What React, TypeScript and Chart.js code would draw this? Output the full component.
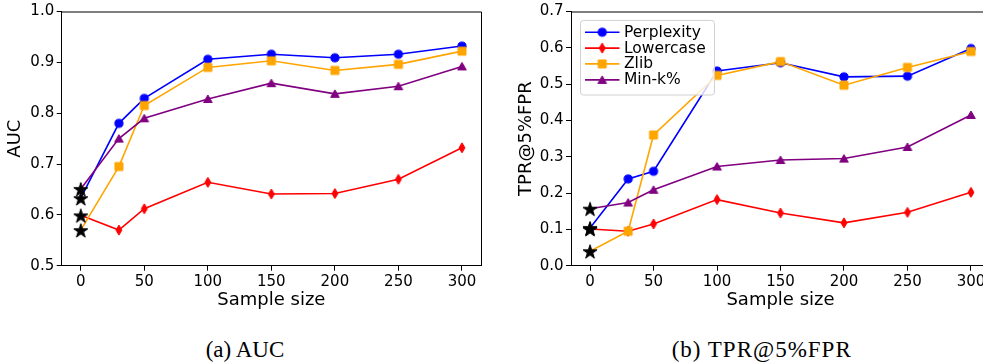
import React, { useEffect, useRef } from 'react';
import { Chart, registerables } from 'chart.js';

Chart.register(...registerables);

const sampleSizes = [0, 30, 50, 100, 150, 200, 250, 300];
const seriesNames = ['Perplexity', 'Lowercase', 'Zlib', 'Min-k%'];
const seriesColors = ['#0000ff', '#ff0000', '#ffa500', '#800080'];
const seriesMarkers = ['circle', 'thinDiamond', 'square', 'triangle'];

const aucPerplexity = [0.633, 0.780, 0.829, 0.906, 0.916, 0.909, 0.916, 0.932];
const aucLowercase = [0.599, 0.570, 0.612, 0.664, 0.641, 0.642, 0.670, 0.732];
const aucZlib = [0.570, 0.695, 0.815, 0.890, 0.903, 0.884, 0.896, 0.922];
const aucMinK = [0.651, 0.750, 0.790, 0.828, 0.859, 0.838, 0.853, 0.892];

const tprPerplexity = [0.104, 0.239, 0.260, 0.536, 0.559, 0.520, 0.522, 0.598];
const tprLowercase = [0.101, 0.095, 0.115, 0.182, 0.145, 0.118, 0.147, 0.202];
const tprZlib = [0.040, 0.095, 0.360, 0.524, 0.562, 0.497, 0.546, 0.590];
const tprMinK = [0.157, 0.174, 0.209, 0.273, 0.291, 0.295, 0.327, 0.415];

const xTicks = [0, 50, 100, 150, 200, 250, 300];
const aucTicks = [0.5, 0.6, 0.7, 0.8, 0.9, 1.0];
const tprTicks = [0.0, 0.1, 0.2, 0.3, 0.4, 0.5, 0.6, 0.7];

const FONT = "'DejaVu Sans', 'Liberation Sans', sans-serif";

function makeMarker(kind: string, color: string): HTMLCanvasElement {
  const c = document.createElement('canvas');
  c.width = 22;
  c.height = 22;
  const g = c.getContext('2d')!;
  const cx = 11, cy = 11;
  g.fillStyle = color;
  g.strokeStyle = color;
  g.lineWidth = 1;
  g.lineJoin = 'miter';
  g.beginPath();
  if (kind === 'circle') {
    g.arc(cx, cy, 4.1, 0, Math.PI * 2);
  } else if (kind === 'square') {
    g.rect(cx - 4, cy - 4, 8, 8);
  } else if (kind === 'thinDiamond') {
    g.moveTo(cx, cy - 5);
    g.lineTo(cx + 3, cy);
    g.lineTo(cx, cy + 5);
    g.lineTo(cx - 3, cy);
    g.closePath();
  } else if (kind === 'triangle') {
    const R = 5;
    for (let i = 0; i < 3; i++) {
      const a = -Math.PI / 2 + (i * 2 * Math.PI) / 3;
      const px = cx + R * Math.cos(a);
      const py = cy + 1 + R * Math.sin(a);
      if (i === 0) g.moveTo(px, py); else g.lineTo(px, py);
    }
    g.closePath();
  } else if (kind === 'star') {
    const R = 7.4, r = R * 0.382;
    for (let i = 0; i < 10; i++) {
      const a = -Math.PI / 2 + (i * Math.PI) / 5;
      const rad = i % 2 === 0 ? R : r;
      const px = cx + rad * Math.cos(a);
      const py = cy + 1 + rad * Math.sin(a);
      if (i === 0) g.moveTo(px, py); else g.lineTo(px, py);
    }
    g.closePath();
  }
  g.fill();
  g.stroke();
  return c;
}

const spinePlugin = {
  id: 'spines',
  afterDatasetsDraw(chart: any) {
    const { ctx, chartArea } = chart;
    ctx.save();
    ctx.strokeStyle = '#000';
    ctx.lineWidth = 1;
    ctx.beginPath();
    ctx.moveTo(chartArea.left, chartArea.top + 0.5);
    ctx.lineTo(chartArea.right + 0.5, chartArea.top + 0.5);
    ctx.lineTo(chartArea.right + 0.5, chartArea.bottom);
    ctx.stroke();
    ctx.restore();
  },
};

function makeLegendPlugin(markers: HTMLCanvasElement[]) {
  return {
    id: 'customLegend',
    afterDatasetsDraw(chart: any) {
      const { ctx, chartArea } = chart;
      const x0 = chartArea.left + 9;
      const y0 = chartArea.top + 8.4;
      const w = 134;
      const h = 74.6;
      ctx.save();
      ctx.beginPath();
      ctx.roundRect(x0 + 0.5, y0 + 0.5, w, h, 3);
      ctx.fillStyle = 'rgba(255,255,255,0.8)';
      ctx.fill();
      ctx.strokeStyle = '#d0d0d0';
      ctx.lineWidth = 1;
      ctx.stroke();
      const rowY = [20.7, 36.6, 52.4, 68.4];
      ctx.font = `15.5px ${FONT}`;
      ctx.textBaseline = 'middle';
      ctx.textAlign = 'left';
      seriesNames.forEach((name, i) => {
        const y = chartArea.top + rowY[i];
        ctx.strokeStyle = seriesColors[i];
        ctx.lineWidth = 1.6;
        ctx.beginPath();
        ctx.moveTo(chartArea.left + 14, y);
        ctx.lineTo(chartArea.left + 48.5, y);
        ctx.stroke();
        const m = markers[i];
        ctx.drawImage(m, chartArea.left + 31.2 - m.width / 2, y - m.height / 2);
        ctx.fillStyle = '#000';
        ctx.fillText(name, chartArea.left + 53, y + 0.5);
      });
      ctx.restore();
    },
  };
}

type PanelProps = {
  series: number[][];
  yTicks: number[];
  yMin: number;
  yMax: number;
  yTitle: string;
  width: number;
  height: number;
  yAxisWidth: number;
  padRight: number;
  padTop: number;
  yTitlePad: number;
  legend: boolean;
};

function Panel(p: PanelProps) {
  const ref = useRef<HTMLCanvasElement>(null);
  useEffect(() => {
    if (!ref.current) return;
    const markers = seriesMarkers.map((k, i) => makeMarker(k, seriesColors[i]));
    const star = makeMarker('star', '#000');
    const lineSets = p.series.map((vals, i) => ({
      type: 'line' as const,
      label: seriesNames[i],
      data: sampleSizes.map((x, j) => ({ x, y: vals[j] })),
      borderColor: seriesColors[i],
      backgroundColor: seriesColors[i],
      borderWidth: 1.6,
      pointStyle: markers[i],
      pointRadius: (ctx: any) => (ctx.dataIndex === 0 ? 0 : 4),
      pointHoverRadius: 4,
      tension: 0,
      order: 4 - i,
    }));
    const starSet = {
      type: 'scatter' as const,
      label: 'start',
      data: p.series.map((vals) => ({ x: sampleSizes[0], y: vals[0] })),
      pointStyle: star,
      pointRadius: 7,
      showLine: false,
      order: 0,
    };
    const plugins: any[] = [spinePlugin];
    if (p.legend) plugins.push(makeLegendPlugin(markers));
    const chart = new Chart(ref.current, {
      type: 'line',
      data: { datasets: [...lineSets, starSet] as any },
      options: {
        responsive: false,
        animation: false,
        devicePixelRatio: 1,
        layout: { padding: { left: 0, right: p.padRight, top: p.padTop, bottom: 0 } },
        plugins: { legend: { display: false }, tooltip: { enabled: false } },
        scales: {
          x: {
            type: 'linear',
            min: -15,
            max: 315,
            afterBuildTicks: (axis: any) => {
              axis.ticks = xTicks.map((v) => ({ value: v }));
            },
            afterFit: (axis: any) => {
              axis.height = p.height - 265.7;
            },
            ticks: {
              autoSkip: false,
              maxRotation: 0,
              padding: 2,
              color: '#000',
              font: { family: FONT, size: 15 },
              callback: (v: any) => String(v),
            },
            grid: {
              display: true,
              drawOnChartArea: false,
              drawTicks: true,
              tickLength: 5,
              color: '#000',
              lineWidth: 1,
            },
            border: { display: true, color: '#000', width: 1 },
            title: {
              display: true,
              text: 'Sample size',
              color: '#000',
              font: { family: FONT, size: 18 },
              padding: { top: 0, bottom: 9.2 },
            },
          },
          y: {
            type: 'linear',
            min: p.yMin,
            max: p.yMax,
            afterBuildTicks: (axis: any) => {
              axis.ticks = p.yTicks.map((v) => ({ value: v }));
            },
            afterFit: (axis: any) => {
              axis.width = p.yAxisWidth;
            },
            ticks: {
              autoSkip: false,
              padding: 2.5,
              color: '#000',
              font: { family: FONT, size: 15 },
              callback: (v: any) => Number(v).toFixed(1),
            },
            grid: {
              display: true,
              drawOnChartArea: false,
              drawTicks: true,
              tickLength: 5,
              color: '#000',
              lineWidth: 1,
            },
            border: { display: true, color: '#000', width: 1 },
            title: {
              display: true,
              text: p.yTitle,
              color: '#000',
              font: { family: FONT, size: 18 },
              padding: { top: p.yTitlePad, bottom: 0 },
            },
          },
        },
      },
      plugins,
    });
    return () => chart.destroy();
  }, []);
  return (
    <canvas
      ref={ref}
      width={p.width}
      height={p.height}
      style={{ width: p.width, height: p.height, display: 'block' }}
    />
  );
}

export default function App() {
  const captionStyle: React.CSSProperties = {
    position: 'absolute',
    top: 339.3,
    transform: 'translateX(-50%)',
    fontFamily: "'Liberation Serif', 'Times New Roman', serif",
    fontSize: 23,
    lineHeight: '22px',
    whiteSpace: 'nowrap',
    color: '#000',
  };
  return (
    <div
      style={{
        position: 'fixed',
        left: 0,
        top: 0,
        width: 983,
        height: 364,
        overflow: 'hidden',
        background: '#fff',
      }}
    >
      <div style={{ position: 'absolute', left: 0, top: 0 }}>
        <Panel
          series={[aucPerplexity, aucLowercase, aucZlib, aucMinK]}
          yTicks={aucTicks}
          yMin={0.5}
          yMax={1.0}
          yTitle="AUC"
          width={490}
          height={320}
          yAxisWidth={61.7}
          padRight={9}
          padTop={9.5}
          yTitlePad={5}
          legend={false}
        />
      </div>
      <div style={{ position: 'absolute', left: 490, top: 0 }}>
        <Panel
          series={[tprPerplexity, tprLowercase, tprZlib, tprMinK]}
          yTicks={tprTicks}
          yMin={0}
          yMax={0.7}
          yTitle="TPR@5%FPR"
          width={510}
          height={320}
          yAxisWidth={81}
          padRight={10}
          padTop={9.3}
          yTitlePad={25.2}
          legend={true}
        />
      </div>
      <div style={{ ...captionStyle, left: 245 }}>(a) AUC</div>
      <div style={{ ...captionStyle, left: 761.7, letterSpacing: 1 }}>(b) TPR@5%FPR</div>
    </div>
  );
}
